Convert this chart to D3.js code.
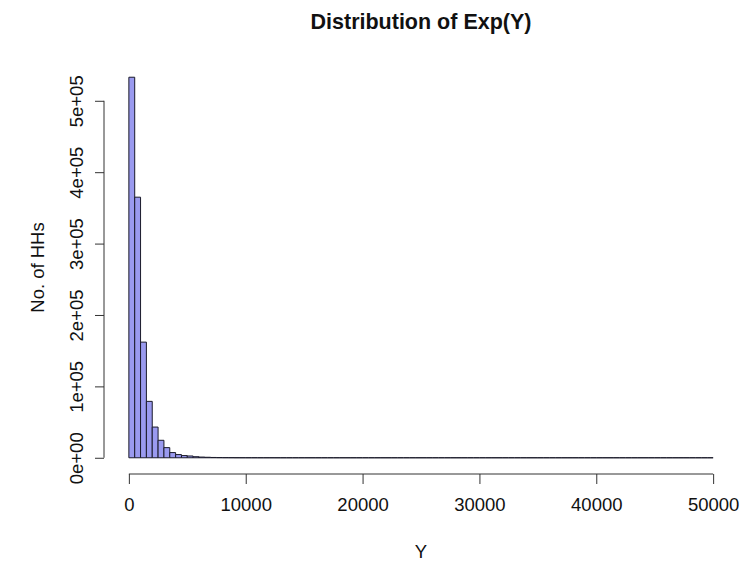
<!DOCTYPE html>
<html>
<head>
<meta charset="utf-8">
<script src="https://cdn.jsdelivr.net/npm/d3@7"></script>
<style>
  body { margin: 0; background: #fff; }
  text { font-family: "Liberation Sans", Arial, sans-serif; fill: #111; }
</style>
</head>
<body>
<svg id="chart" width="756" height="566"></svg>
<script>
// histogram bins of width 500 from 0 to 50000
var binWidth = 500;
var counts = [
  533000, 365000, 162000, 79000, 43000, 24500, 14200, 7300, 4500, 3100,
  2500, 1500, 1000, 700, 450, 300, 200, 150, 100, 80,
  60, 45, 35, 25, 20, 15, 12, 10, 8, 6,
  5, 4, 3, 3, 2, 2, 2, 1, 1, 1,
  1, 1, 0, 1, 0, 0, 1, 0, 0, 0,
  0, 0, 0, 0, 0, 0, 0, 0, 0, 0,
  0, 0, 0, 0, 0, 0, 0, 0, 0, 0,
  0, 0, 0, 0, 0, 0, 0, 0, 0, 0,
  0, 0, 0, 0, 0, 0, 0, 0, 0, 0,
  0, 0, 0, 0, 0, 0, 0, 0, 0, 1
];
var xTicks = [0, 10000, 20000, 30000, 40000, 50000];
var yTicks = [0, 100000, 200000, 300000, 400000, 500000];
var yTickLabels = ["0e+00", "1e+05", "2e+05", "3e+05", "4e+05", "5e+05"];

var svg = d3.select("#chart");

// plot region (R style, 4% padding on each axis)
var plotLeft = 105.5, plotRight = 736.5, plotTop = 62, plotBottom = 473;
var xMax = 50000, yMax = d3.max(counts);

var x = d3.scaleLinear()
  .domain([-0.04 * xMax, 1.04 * xMax])
  .range([plotLeft, plotRight]);
var y = d3.scaleLinear()
  .domain([-0.04 * yMax, 1.04 * yMax])
  .range([plotBottom, plotTop]);

// bars as closed paths so empty bins still show as a line on the baseline
svg.append("g")
  .selectAll("path")
  .data(counts)
  .join("path")
  .attr("d", function(d, i) {
    var x0 = x(i * binWidth), x1 = x((i + 1) * binWidth);
    return "M" + x0 + "," + y(0) + "V" + y(d) + "H" + x1 + "V" + y(0) + "Z";
  })
  .attr("fill", "#9a9aef")
  .attr("stroke", "#1a1a2a")
  .attr("stroke-width", 1);

// x axis
var xAxis = svg.append("g")
  .attr("transform", "translate(0," + (plotBottom + 1) + ")")
  .call(d3.axisBottom(x).tickValues(xTicks).tickFormat(d3.format("d")).tickSizeOuter(0).tickSize(10).tickPadding(14));
xAxis.select(".domain").attr("d", "M" + x(0) + ",0H" + x(xMax)).attr("stroke", "#333");
xAxis.selectAll("line").attr("stroke", "#333");
xAxis.selectAll("text").style("font-size", "18.5px").attr("fill", "#111");

// y axis
var yAxis = svg.append("g")
  .attr("transform", "translate(" + (plotLeft - 1.5) + ",0)")
  .call(d3.axisLeft(y).tickValues(yTicks).tickFormat(function(d, i) { return yTickLabels[i]; }).tickSizeOuter(0).tickSize(9));
yAxis.select(".domain").attr("d", "M0," + y(0) + "V" + y(500000)).attr("stroke", "#333");
yAxis.selectAll("line").attr("stroke", "#333");
yAxis.selectAll("text")
  .style("font-size", "18.5px")
  .attr("fill", "#111")
  .attr("x", null).attr("dy", null)
  .attr("text-anchor", "middle")
  .attr("transform", "translate(-21,0) rotate(-90)");

// titles
svg.append("text")
  .attr("x", (plotLeft + plotRight) / 2).attr("y", 29)
  .attr("text-anchor", "middle")
  .style("font-size", "21.5px").style("font-weight", "bold")
  .text("Distribution of Exp(Y)");

svg.append("text")
  .attr("x", (plotLeft + plotRight) / 2).attr("y", 558)
  .attr("text-anchor", "middle")
  .style("font-size", "18.5px")
  .text("Y");

svg.append("text")
  .attr("transform", "translate(44," + ((plotTop + plotBottom) / 2) + ") rotate(-90)")
  .attr("text-anchor", "middle")
  .style("font-size", "18.5px")
  .text("No. of HHs");
</script>
</body>
</html>
